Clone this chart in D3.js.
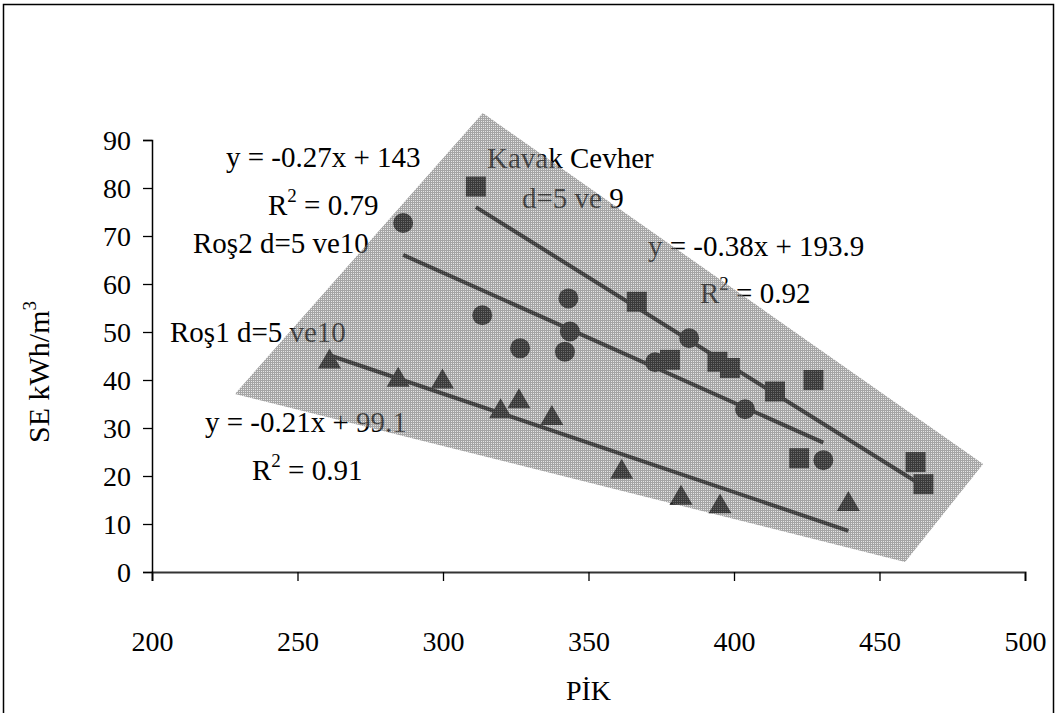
<!DOCTYPE html>
<html>
<head>
<meta charset="utf-8">
<script src="https://cdn.jsdelivr.net/npm/d3@7"></script>
<style>
  html, body { margin: 0; padding: 0; background: #fff; }
  svg { display: block; }
  text { font-family: "Liberation Serif", "Times New Roman", serif; fill: #000; }
</style>
</head>
<body>
<svg id="chart" width="1057" height="713"></svg>
<script>
// ---- data ----
const xTicks = [200, 250, 300, 350, 400, 450, 500];
const yTicks = [0, 10, 20, 30, 40, 50, 60, 70, 80, 90];

// Kavak Cevher d=5 ve 9 (squares)
const kavakX = [311.3, 366.6, 378.0, 394.3, 398.6, 414.1, 427.3, 422.4, 462.4, 465.1];
const kavakY = [80.3, 56.3, 44.2, 43.8, 42.5, 37.6, 40.0, 23.7, 22.9, 18.3];
// Roş2 d=5 ve10 (circles)
const ros2X = [286.3, 313.5, 326.5, 341.9, 343.1, 343.6, 372.9, 384.6, 403.8, 430.7];
const ros2Y = [72.7, 53.5, 46.6, 45.9, 57.0, 50.1, 43.7, 48.7, 33.9, 23.3];
// Roş1 d=5 ve10 (triangles)
const ros1X = [261.0, 284.6, 299.8, 319.8, 326.1, 337.4, 361.4, 381.8, 395.2, 439.3];
const ros1Y = [43.8, 40.0, 39.6, 33.4, 35.5, 32.0, 20.8, 15.4, 13.6, 14.1];

// shaded highlight region (drawing shape), in data units
const shadeX = [313.7, 485.6, 458.8, 228.5];
const shadeY = [95.6, 22.5, 2.1, 37.1];

// ---- setup ----
const svg = d3.select("#chart");
const W = 1057, H = 713;
const x = d3.scaleLinear().domain([200, 500]).range([152, 1025]);
const y = d3.scaleLinear().domain([0, 90]).range([572, 140]);

svg.append("rect").attr("x", 0).attr("y", 0).attr("width", W).attr("height", H).attr("fill", "#fff");
// outer frame
svg.append("rect").attr("x", 3.5).attr("y", 4.5).attr("width", 1050).attr("height", 800)
  .attr("fill", "none").attr("stroke", "#000").attr("stroke-width", 1.5);

// pattern for shaded overlay (fine grid, semi-transparent)
const defs = svg.append("defs");
const pat = defs.append("pattern").attr("id", "grid").attr("patternUnits", "userSpaceOnUse")
  .attr("width", 2).attr("height", 2);
const gridCol = "rgba(100,100,100,0.58)", cellCol = "rgba(205,205,205,0.52)";
pat.append("rect").attr("x", 0).attr("y", 0).attr("width", 2).attr("height", 1).attr("fill", gridCol);
pat.append("rect").attr("x", 0).attr("y", 1).attr("width", 1).attr("height", 1).attr("fill", gridCol);
pat.append("rect").attr("x", 1).attr("y", 1).attr("width", 1).attr("height", 1).attr("fill", cellCol);

// ---- axes ----
const xAxis = d3.axisBottom(x).tickValues(xTicks).tickSize(9).tickPadding(0).tickFormat(d3.format("d"));
const gx = svg.append("g").attr("transform", `translate(0,${y(0)})`).call(xAxis);
gx.select(".domain").attr("stroke", "#333").attr("stroke-width", 2);
gx.selectAll(".tick line").attr("stroke", "#000").attr("stroke-width", 1.3);
gx.selectAll(".tick text").attr("font-size", 28).attr("font-family", "Liberation Serif")
  .attr("y", 0).attr("dy", 0).attr("transform", "translate(0,79)");

const yAxis = d3.axisLeft(y).tickValues(yTicks).tickSize(9).tickPadding(12).tickFormat(d3.format("d"));
const gy = svg.append("g").attr("transform", `translate(${x(200)},0)`).call(yAxis);
gy.select(".domain").attr("stroke", "#000").attr("stroke-width", 1.5);
gy.selectAll(".tick line").attr("stroke", "#000").attr("stroke-width", 1.3);
gy.selectAll(".tick text").attr("font-size", 28).attr("font-family", "Liberation Serif").attr("dy", "0.34em");

// axis titles
svg.append("text").attr("x", (x(200) + x(500)) / 2).attr("y", 700).attr("text-anchor", "middle")
  .attr("font-size", 28).text("PİK");
const yt = svg.append("text").attr("transform", "translate(49,372) rotate(-90)").attr("text-anchor", "middle")
  .attr("font-size", 30);
yt.append("tspan").text("SE kWh/m");
yt.append("tspan").attr("font-size", 19).attr("dy", -13).text("3");

// ---- annotations (drawn below the overlay) ----
function eqText(px, py, parts) {
  const t = svg.append("text").attr("x", px).attr("y", py).attr("font-size", 29).attr("text-anchor", "start");
  parts.forEach(p => {
    const s = t.append("tspan").text(p.t);
    if (p.sup) s.attr("font-size", 19).attr("dy", -13);
    if (p.down) s.attr("dy", 13);
  });
  return t;
}
eqText(226, 167, [{t: "y = -0.27x + 143"}]);
eqText(268, 215, [{t: "R"}, {t: "2", sup: true}, {t: " = 0.79", down: true}]);
eqText(193, 253, [{t: "Roş2 d=5 ve10"}]);
eqText(170, 342, [{t: "Roş1 d=5 ve10"}]);
eqText(205, 432, [{t: "y = -0.21x + 99.1"}]);
eqText(252, 480, [{t: "R"}, {t: "2", sup: true}, {t: " = 0.91", down: true}]);
eqText(487, 168, [{t: "Kavak Cevher"}]);
eqText(522, 208, [{t: "d=5 ve 9"}]);
eqText(648, 256, [{t: "y = -0.38x + 193.9"}]);
eqText(700, 303, [{t: "R"}, {t: "2", sup: true}, {t: " = 0.92", down: true}]);

// ---- trend lines (least squares) ----
function fit(xs, ys) {
  const mx = d3.mean(xs), my = d3.mean(ys);
  let sxy = 0, sxx = 0;
  xs.forEach((v, i) => { sxy += (v - mx) * (ys[i] - my); sxx += (v - mx) * (v - mx); });
  const b = sxy / sxx, a = my - b * mx;
  const [x0, x1] = d3.extent(xs);
  return [[x0, a + b * x0], [x1, a + b * x1]];
}
const line = d3.line().x(d => x(d[0])).y(d => y(d[1]));
[[kavakX, kavakY], [ros2X, ros2Y], [ros1X, ros1Y]].forEach(([xs, ys]) => {
  svg.append("path").attr("d", line(fit(xs, ys))).attr("fill", "none")
    .attr("stroke", "#000").attr("stroke-width", 4);
});

// ---- markers ----
const sq = d3.symbol().type(d3.symbolSquare).size(400);
const ci = d3.symbol().type(d3.symbolCircle).size(Math.PI * 10 * 10);
const tr = d3.symbol().type(d3.symbolTriangle).size(230);
function pts(xs, ys) { return xs.map((v, i) => [v, ys[i]]); }
svg.append("g").selectAll("path").data(pts(kavakX, kavakY)).join("path")
  .attr("d", sq).attr("transform", d => `translate(${x(d[0])},${y(d[1])})`).attr("fill", "#000");
svg.append("g").selectAll("path").data(pts(ros2X, ros2Y)).join("path")
  .attr("d", ci).attr("transform", d => `translate(${x(d[0])},${y(d[1])})`).attr("fill", "#000");
svg.append("g").selectAll("path").data(pts(ros1X, ros1Y)).join("path")
  .attr("d", tr).attr("transform", d => `translate(${x(d[0])},${y(d[1])})`).attr("fill", "#000");

// ---- shaded overlay region ----
const shadePts = shadeX.map((v, i) => [x(v), y(shadeY[i])]);
svg.append("path").attr("d", "M" + shadePts.map(p => p.join(",")).join("L") + "Z")
  .attr("fill", "url(#grid)");
</script>
</body>
</html>
